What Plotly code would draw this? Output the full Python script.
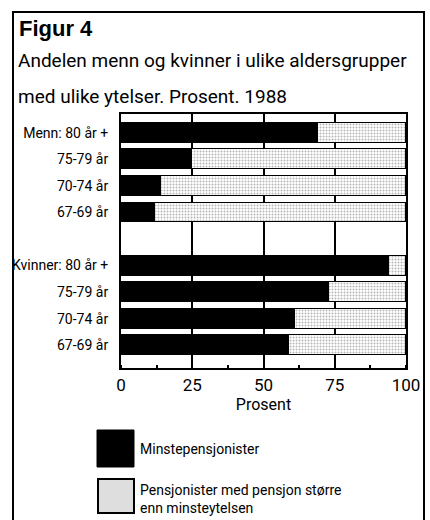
import plotly.graph_objects as go

# data (percent)
rows = ["Menn: 80 år +", "75-79 år", "70-74 år", "67-69 år", "",
        "Kvinner: 80 år +", "75-79 år", "70-74 år", "67-69 år"]
minste = [69, 25, 14, 12, None, 94, 73, 61, 59]
storre = [31, 75, 86, 88, None, 6, 27, 39, 41]
ticks_x = [0, 25, 50, 75, 100]

W, H = 430, 520
FONT = "Roboto, Liberation Sans, Arial, sans-serif"


def px(x):
    return x / W


def py(y):
    return 1 - y / H


ypos = list(range(len(rows)))
gray = dict(shape=".", fgcolor="#6e6e6e", bgcolor="#ffffff", size=3, solidity=0.35)

fig = go.Figure()
fig.add_trace(go.Bar(y=ypos, x=minste, orientation="h", width=0.75,
                     marker=dict(color="black", line=dict(color="black", width=1.5)),
                     name="Minstepensjonister", showlegend=False))
fig.add_trace(go.Bar(y=ypos, x=storre, orientation="h", width=0.75,
                     marker=dict(color="#e8e8e8", pattern=gray,
                                 line=dict(color="black", width=1.5)),
                     name="Pensjonister med pensjon større enn minsteytelsen",
                     showlegend=False))

fig.update_layout(
    width=W, height=H, autosize=False,
    margin=dict(l=0, r=0, t=0, b=0),
    paper_bgcolor="white", plot_bgcolor="white",
    barmode="stack", bargap=0,
    font=dict(family=FONT, color="black", size=15),
    xaxis=dict(domain=[px(121), px(406)], range=[0, 100],
               tickvals=ticks_x, ticks="", showgrid=True, gridcolor="black",
               gridwidth=2, showline=True, linecolor="black", linewidth=2,
               mirror=True, zeroline=False, automargin=False,
               tickfont=dict(size=17), ticklabelstandoff=1,
               minor=dict(dtick=12.5, ticks="inside", ticklen=3,
                          tickcolor="black", tickwidth=2, showgrid=False),
               title=dict(text="Prosent", font=dict(size=16), standoff=4)),
    yaxis=dict(domain=[py(368), py(114)], range=[8.86, -0.71],
               tickvals=ypos, ticktext=rows, ticks="", showgrid=False,
               showline=True, linecolor="black", linewidth=2, mirror=True,
               zeroline=False, automargin=False, tickfont=dict(size=14),
               ticklabelstandoff=8),
)

# outer frame
fig.add_shape(type="rect", xref="paper", yref="paper",
              x0=px(13), x1=px(424), y0=py(540), y1=py(12),
              line=dict(color="black", width=2), layer="below")

# title
fig.add_annotation(text="<b>Figur 4</b>", xref="paper", yref="paper",
                   x=px(17), y=py(28), xanchor="left", yanchor="middle",
                   showarrow=False, font=dict(family="Liberation Sans, Arial, sans-serif", size=22))
fig.add_annotation(text="Andelen menn og kvinner i ulike aldersgrupper", xref="paper",
                   yref="paper", x=px(16), y=py(60), xanchor="left", yanchor="middle",
                   showarrow=False, font=dict(size=19))
fig.add_annotation(text="med ulike ytelser. Prosent. 1988", xref="paper",
                   yref="paper", x=px(16), y=py(96), xanchor="left", yanchor="middle",
                   showarrow=False, font=dict(size=19))

# legend
fig.add_shape(type="rect", xref="paper", yref="paper",
              x0=px(97), x1=px(134), y0=py(467), y1=py(430),
              fillcolor="black", line=dict(color="black", width=1))
fig.add_shape(type="rect", xref="paper", yref="paper",
              x0=px(98), x1=px(134), y0=py(513), y1=py(479),
              fillcolor="#dedede", line=dict(color="black", width=2))
fig.add_annotation(text="Minstepensjonister", xref="paper", yref="paper",
                   x=px(138), y=py(449), xanchor="left", yanchor="middle",
                   showarrow=False, font=dict(size=14))
fig.add_annotation(text="Pensjonister med pensjon større<br>enn minsteytelsen",
                   xref="paper", yref="paper", x=px(138), y=py(499),
                   xanchor="left", yanchor="middle", align="left",
                   showarrow=False, font=dict(size=14))

# the page's default body margin would shift the figure by 8px
fig.write_html("out.html", config={"displayModeBar": False},
               post_script="document.body.style.margin='0';")
